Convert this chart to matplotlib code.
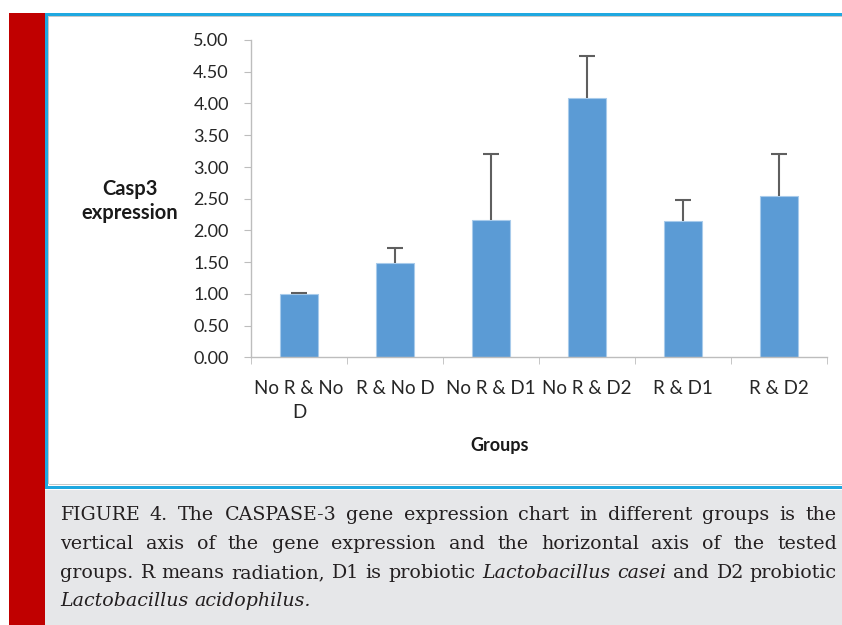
import matplotlib
matplotlib.use("Agg")
import matplotlib.pyplot as plt
from matplotlib.patches import Rectangle
import numpy as np

# ---------------- data ----------------
categories = ["No R & No\nD", "R & No D", "No R & D1", "No R & D2", "R & D1", "R & D2"]
values = [1.00, 1.49, 2.17, 4.08, 2.15, 2.54]
errors = [0.01, 0.23, 1.03, 0.67, 0.33, 0.66]
y_ticks = [0.0, 0.5, 1.0, 1.5, 2.0, 2.5, 3.0, 3.5, 4.0, 4.5, 5.0]
y_label = "Casp3\nexpression"
x_label = "Groups"

caption_lines = [
    [("FIGURE", 0), ("4.", 0), ("The", 0), ("CASPASE-3", 0), ("gene", 0), ("expression", 0),
     ("chart", 0), ("in", 0), ("different", 0), ("groups", 0), ("is", 0), ("the", 0)],
    [("vertical", 0), ("axis", 0), ("of", 0), ("the", 0), ("gene", 0), ("expression", 0),
     ("and", 0), ("the", 0), ("horizontal", 0), ("axis", 0), ("of", 0), ("the", 0), ("tested", 0)],
    [("groups.", 0), ("R", 0), ("means", 0), ("radiation,", 0), ("D1", 0), ("is", 0),
     ("probiotic", 0), ("Lactobacillus", 1), ("casei", 1), ("and", 0), ("D2", 0), ("probiotic", 0)],
    [("Lactobacillus", 1), ("acidophilus.", 1)],
]

W, H = 842, 625
DPI = 100
fig = plt.figure(figsize=(W / DPI, H / DPI), dpi=DPI)
fig.patch.set_facecolor("white")

def fx(px):
    return px / W

def fy(py):
    return 1 - py / H

def rect(x0, y0, x1, y1, color, z=-5):
    r = Rectangle((fx(x0), fy(y1)), fx(x1) - fx(x0), fy(y0) - fy(y1),
                  transform=fig.transFigure, facecolor=color, edgecolor="none", zorder=z)
    fig.add_artist(r)

# frame decorations
rect(9, 13, 45, H, "#C00000")                 # red band
rect(45, 490, W, H, "#E6E7E9")                # caption background
rect(45, 13, W, 16, "#1FA8E0")                # top blue line
rect(45, 16, W, 17, "#C8C8C8")
rect(45, 13, 48, 489, "#1FA8E0")              # left blue line
rect(48, 17, 49, 484, "#C8C8C8")
rect(45, 486, W, 489, "#1FA8E0")              # bottom blue line
rect(49, 484, W, 485, "#C8C8C8")

# ---------------- chart ----------------
ax = fig.add_axes([fx(251), fy(357.5), fx(827) - fx(251), fy(40) - fy(357.5)])
ax.set_facecolor("white")
x = np.arange(len(categories))
ax.bar(x, values, width=0.4, color="#5B9BD5", edgecolor="#A8CBEB", linewidth=0.8, zorder=2)
eb = ax.errorbar(x, values, yerr=[np.zeros(len(errors)), errors], fmt="none",
                 ecolor="#5F5F5F", elinewidth=1.5, capsize=5.5, capthick=1.5, zorder=3)
eb[1][0].set_visible(False)   # hide lower caps (plus-only error bars)

ax.set_xlim(-0.5, len(categories) - 0.5)
ax.set_ylim(0, 5)
ax.set_yticks(y_ticks)
ax.set_yticklabels([f"{v:.2f}" for v in y_ticks])
ax.set_xticks(x)
ax.set_xticklabels(categories, linespacing=1.5)
ax.set_xticks(np.arange(len(categories) + 1) - 0.5, minor=True)

for s in ["top", "right"]:
    ax.spines[s].set_visible(False)
for s in ["left", "bottom"]:
    ax.spines[s].set_color("#BDBDBD")
    ax.spines[s].set_linewidth(1.0)

font = "Lato"
ax.tick_params(axis="y", length=5, color="#BDBDBD", pad=11, labelsize=13, labelcolor="#262626")
ax.tick_params(axis="x", which="major", length=0, pad=16, labelsize=13.5, labelcolor="#262626")
ax.tick_params(axis="x", which="minor", length=5, color="#BDBDBD")
for lab in ax.get_xticklabels() + ax.get_yticklabels():
    lab.set_fontfamily(font)

fig.text(fx(130), fy(201), y_label, ha="center", va="center", fontsize=14.5,
         fontweight="bold", family=font, color="#1a1a1a", linespacing=1.3)
fig.text(fx(500), fy(451), x_label, ha="center", va="baseline", fontsize=13,
         fontweight="bold", family=font, color="#1a1a1a")

# ---------------- caption (justified) ----------------
renderer = fig.canvas.get_renderer()
cap_font = "DejaVu Serif"
x_left, x_right = 60, 837
baselines = [520, 549, 578, 606.5]

def natural_width(line, size):
    tot = 0
    ts = []
    for word, it in line:
        t = fig.text(0, 0, word, fontsize=size, family=cap_font, style="italic" if it else "normal")
        ts.append(t)
        tot += t.get_window_extent(renderer).width
    sp = fig.text(0, 0, "a a", fontsize=size, family=cap_font)
    a1 = fig.text(0, 0, "a", fontsize=size, family=cap_font)
    sw = sp.get_window_extent(renderer).width - 2 * a1.get_window_extent(renderer).width
    for t in ts + [sp, a1]:
        t.remove()
    return tot + sw * (len(line) - 1), sw

# choose size so the third line (nearly natural spacing in reference) fills the width
cap_size = 14.0
for _ in range(3):
    wnat, _sw = natural_width(caption_lines[2], cap_size)
    cap_size *= (x_right - x_left - 6) / wnat

for li, (line, base) in enumerate(zip(caption_lines, baselines)):
    texts = []
    for word, it in line:
        t = fig.text(0, fy(base), word, ha="left", va="baseline", fontsize=cap_size,
                     family=cap_font, style="italic" if it else "normal", color="#231F20")
        texts.append(t)
    widths = [t.get_window_extent(renderer).width for t in texts]
    if li == len(caption_lines) - 1:
        _w, sw = natural_width(line, cap_size)
        gaps = [sw] * (len(texts) - 1)
    else:
        g = (x_right - x_left - sum(widths)) / (len(texts) - 1)
        gaps = [g] * (len(texts) - 1)
    cx = x_left
    for i, t in enumerate(texts):
        t.set_x(fx(cx))
        cx += widths[i] + (gaps[i] if i < len(gaps) else 0)

fig.savefig("out.png", dpi=DPI)
